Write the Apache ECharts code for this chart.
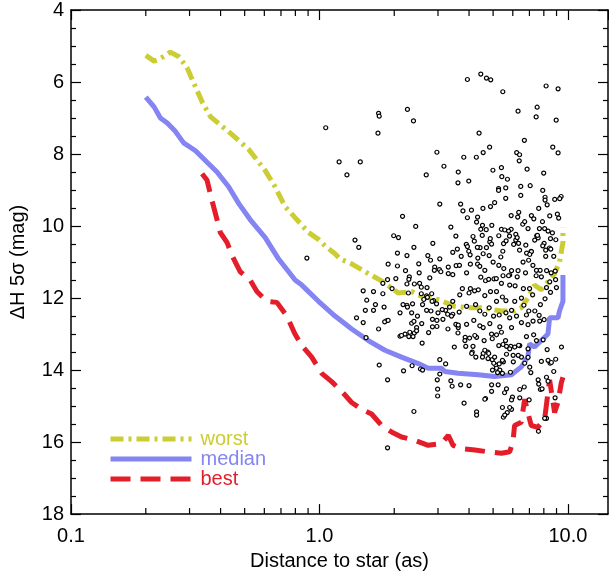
<!DOCTYPE html>
<html>
<head>
<meta charset="utf-8">
<script src="https://cdn.jsdelivr.net/npm/echarts@6/dist/echarts.min.js"></script>
<style>
  html, body { margin: 0; padding: 0; background: #fff; }
  #chart { width: 609px; height: 576px; }
</style>
</head>
<body>
<div id="chart"></div>
<script>
// contrast curves (distance in arcsec, delta H in mag)
const worstX = [0.20, 0.216, 0.226, 0.251, 0.272, 0.293, 0.307, 0.337, 0.364, 0.399, 0.445, 0.519, 0.605, 0.663, 0.727, 0.811, 0.903, 0.991, 1.053, 1.155, 1.21, 1.348, 1.573, 1.807, 2.076, 2.348, 2.575, 3.005, 3.504, 3.965, 4.485, 5.40, 6.10, 6.49, 6.90, 7.34, 7.81, 8.31, 8.84, 9.25, 9.55, 9.55];
const worstY = [5.26, 5.42, 5.37, 5.17, 5.30, 5.60, 5.92, 6.55, 6.96, 7.19, 7.46, 7.87, 8.46, 8.91, 9.46, 9.82, 10.18, 10.37, 10.55, 10.77, 10.91, 11.05, 11.32, 11.55, 11.86, 11.82, 11.95, 12.04, 12.23, 12.27, 12.27, 12.36, 12.36, 12.27, 12.00, 11.64, 11.77, 11.55, 11.32, 11.00, 10.46, 10.05];

const medianX = [0.20, 0.216, 0.229, 0.244, 0.263, 0.284, 0.317, 0.353, 0.387, 0.431, 0.473, 0.526, 0.605, 0.684, 0.798, 0.849, 0.991, 1.155, 1.348, 1.573, 1.835, 2.14, 2.50, 2.74, 3.10, 3.196, 3.615, 4.35, 5.07, 5.92, 6.49, 6.90, 7.01, 7.34, 7.81, 8.31, 8.44, 9.12, 9.25, 9.55, 9.55];
const medianY = [6.42, 6.69, 7.00, 7.14, 7.37, 7.69, 7.91, 8.23, 8.50, 8.91, 9.37, 9.82, 10.32, 10.91, 11.50, 11.64, 12.09, 12.50, 12.86, 13.18, 13.45, 13.64, 13.82, 13.95, 13.95, 14.04, 14.09, 14.13, 14.18, 14.13, 13.91, 13.64, 13.27, 13.36, 13.18, 13.00, 12.55, 12.55, 12.36, 12.09, 11.36];

const bestX = [0.337, 0.353, 0.369, 0.387, 0.399, 0.425, 0.445, 0.48, 0.526, 0.56, 0.614, 0.674, 0.739, 0.796, 0.849, 0.931, 1.021, 1.12, 1.229, 1.348, 1.479, 1.622, 1.778, 1.95, 2.14, 2.42, 2.74, 3.10, 3.30, 3.45, 3.73, 4.22, 4.77, 5.40, 5.83, 6.01, 6.10, 6.49, 6.70, 6.90, 7.12, 7.57, 8.06, 8.31, 8.44, 8.84, 9.12, 9.40, 9.55];
const bestY = [8.55, 8.73, 9.28, 9.82, 10.18, 10.46, 10.82, 11.27, 11.5, 11.82, 12.09, 12.12, 12.5, 12.99, 13.32, 13.64, 14.09, 14.32, 14.59, 14.9, 15.09, 15.22, 15.54, 15.72, 15.86, 15.95, 16.09, 16.04, 15.81, 16.09, 16.18, 16.22, 16.27, 16.31, 16.27, 15.99, 15.54, 15.45, 14.81, 15.18, 15.54, 15.59, 15.36, 14.63, 14.27, 15.18, 14.9, 14.36, 14.2];

// detected sources [distance, delta H]
const sources = [
  [2.26,6.76],[1.73,6.87],[1.74,6.95],[2.39,7.08],[1.06,7.27],[1.72,7.42],[2.97,7.95],[1.20,8.22],[1.46,8.22],[3.17,8.34],
  [1.29,8.58],[2.69,8.58],[3.05,9.39],[2.16,9.73],[2.44,10.01],[3.38,10.03],[1.99,10.27],[2.08,10.32],[1.39,10.39],[1.44,10.59],
  [2.40,10.59],[2.86,10.48],[3.94,5.93],[4.46,5.78],[4.70,5.89],[4.89,5.94],[5.47,6.27],[8.17,6.11],[9.13,6.19],[6.30,6.81],
  [7.52,6.70],[7.45,6.97],[8.97,7.06],[4.39,7.42],[6.68,7.62],[4.84,7.81],[4.56,7.96],[4.28,8.09],[3.81,8.09],[3.62,8.50],
  [3.61,8.80],[3.99,8.75],[6.22,7.96],[6.39,8.02],[6.37,8.19],[4.99,8.45],[5.40,8.38],[6.85,8.42],[8.69,7.81],[9.13,7.97],
  [7.99,8.53],[5.42,8.63],[5.71,8.70],[5.26,8.96],[5.26,9.01],[5.62,8.94],[5.62,9.23],[6.46,8.90],[6.46,9.15],[7.05,8.88],
  [7.92,9.01],[8.09,9.20],[8.09,9.28],[8.85,9.26],[9.39,9.18],[9.27,9.24],[3.70,9.39],[3.78,9.58],[3.94,9.77],[4.09,9.56],
  [4.33,9.75],[4.29,9.89],[4.55,9.51],[4.88,9.46],[5.07,9.35],[4.53,9.98],[4.94,9.98],[4.46,10.09],[4.69,10.10],[5.91,9.71],
  [6.28,9.75],[6.34,9.62],[7.13,9.71],[7.29,9.80],[6.58,9.95],[6.70,9.88],[7.63,9.51],[8.25,9.41],[8.45,9.72],[9.07,9.67],
  [9.18,9.78],[7.90,9.88],[7.68,10.07],[8.06,10.07],[8.32,10.14],[8.66,10.19],[8.94,10.38],[5.40,10.09],[5.91,10.09],[5.57,10.11],
  [6.17,10.23],[5.82,10.28],[5.27,10.27],[6.91,10.07],[7.49,10.27],[7.59,10.33],[7.35,10.39],[8.51,10.35],[8.02,10.48],[8.43,10.61],
  [4.85,10.44],[4.93,10.50],[4.70,10.60],[4.43,10.60],[6.17,10.39],[6.33,10.48],[6.77,10.53],[7.11,10.70],[5.51,10.49],[4.15,10.29],
  [4.20,10.42],[3.90,10.51],[3.54,10.28],[3.99,10.70],[5.47,10.70],[7.13,10.71],
  [0.89,10.89],[2.06,10.75],[2.25,10.82],[1.89,11.06],[2.06,11.11],[2.22,11.24],[1.88,11.49],[1.65,11.82],[1.50,11.80],[1.55,12.06],
  [1.68,12.18],[1.53,12.34],[1.65,12.34],[1.82,12.25],[1.86,12.63],[1.83,12.66],[1.41,12.55],[1.73,12.86],[1.54,13.10],[1.74,13.86],
  [1.88,14.27],[2.40,15.15],[2.18,14.02],[2.36,13.88],[2.55,13.97],[2.51,11.05],[2.73,10.82],[2.80,10.95],[2.91,11.14],[3.04,11.21],
  [2.78,11.44],[2.53,11.59],[2.71,11.71],[2.70,11.94],[2.88,12.07],[2.28,11.86],[2.25,12.20],[2.11,12.41],[2.35,12.41],[2.48,12.50],
  [2.58,12.71],[2.35,12.70],[2.46,12.82],[2.21,13.00],[2.11,13.06],[2.41,12.97],[2.59,13.25],[2.75,12.96],[2.97,12.79],[2.85,12.59],
  [3.00,12.41],[3.22,12.34],[3.44,12.45],[3.29,12.86],[3.54,12.73],[3.62,12.82],[3.86,13.09],[3.49,13.36],[3.88,13.34],[4.12,13.50],
  [4.26,13.64],[4.56,13.54],[4.76,13.50],[4.29,13.09],[4.60,13.18],[4.56,12.82],[4.93,13.00],[5.40,12.95],[5.61,13.18],[5.27,13.32],
  [5.89,13.34],[6.40,13.32],[6.91,13.41],[4.96,13.71],[5.12,13.86],[4.97,14.00],[5.50,13.77],[6.03,13.77],[6.50,13.64],[7.09,14.07],
  [7.59,14.27],[7.75,14.54],[7.82,13.76],[8.48,13.81],[8.93,13.70],[9.42,13.36],[8.25,13.43],[3.38,14.30],[3.70,14.41],[2.99,14.53],
  [4.00,14.43],[4.66,14.79],[4.93,14.59],[5.56,14.63],[5.98,14.75],[6.40,14.54],[3.82,14.92],[5.45,15.04],[5.93,15.09],[5.50,15.31],
  [7.63,14.39],
  [4.52,10.26],[4.87,10.35],[5.77,10.14],[6.25,10.32],[6.05,10.51],[5.64,10.41],[6.39,10.67],[6.82,10.75],[7.02,10.79],[7.54,10.26],
  [7.92,10.55],[8.14,10.67],[8.53,10.64],[8.77,10.84],[8.14,10.84],[6.95,10.95],[6.60,11.00],[7.23,11.09],[7.73,11.23],[8.21,11.24],
  [8.56,11.30],[8.89,11.25],[8.45,11.55],[7.82,11.41],[7.45,11.38],[7.47,11.23],[6.75,11.30],[6.30,11.24],[6.25,11.41],[5.93,11.24],
  [5.83,11.36],[5.52,11.18],[5.27,11.09],[5.00,11.00],[5.37,10.86],[4.82,10.82],[4.56,10.77],[4.32,10.59],[4.34,10.89],[4.04,10.80],
  [3.94,10.57],[3.59,10.64],[3.44,10.73],[3.72,10.84],[4.05,11.06],[4.33,11.06],[4.42,11.12],[4.63,11.23],[3.91,11.30],[3.44,11.35],
  [3.55,11.10],[3.66,11.09],[4.46,11.42],[4.66,11.52],[4.80,11.48],[5.04,11.47],[5.15,11.46],[5.48,11.38],[5.77,11.38],[5.40,11.59],
  [5.83,11.64],[6.13,11.66],[6.62,11.74],[7.01,11.74],[7.21,11.91],[8.20,11.71],[8.92,11.49],[8.99,11.71],[8.51,11.84],[8.09,12.02],
  [7.75,12.18],[7.66,12.48],[7.36,12.36],[6.96,12.36],[6.65,12.20],[6.50,12.00],[6.11,12.09],[5.93,12.34],[5.63,12.07],[5.45,11.97],
  [5.16,12.09],[5.16,11.82],[4.88,11.82],[4.63,11.93],[4.36,11.77],[4.21,11.80],[4.05,11.74],[4.00,11.86],[3.76,11.74],[3.67,11.91],
  [3.44,12.09],[3.34,12.25],[3.65,12.39],[3.91,12.23],[4.25,12.18],[4.42,12.36],[4.63,12.45],[4.82,12.27],[5.02,12.50],[5.29,12.47],
  [5.63,12.41],[5.83,12.55],[6.21,12.50],[6.81,12.47],[7.24,12.64],[7.70,12.64],[8.02,12.60],[6.91,12.74],[6.50,12.68],[5.93,12.82],
  [5.32,12.80],[4.85,12.71],[4.42,12.77],[4.18,12.62],[3.91,12.73],[3.62,12.75],[3.40,12.50],
  [3.61,12.97],[3.85,13.18],[4.02,13.11],[4.22,13.04],[4.15,13.34],[4.63,13.45],[4.96,13.13],[5.16,13.02],[5.48,13.29],[5.66,13.34],
  [5.83,13.41],[6.11,13.36],[6.33,13.31],[6.02,13.59],[6.31,13.59],[5.66,13.56],[5.45,13.73],[5.07,13.64],[4.80,13.54],[4.77,13.68],
  [4.53,13.64],[4.10,13.54],[5.03,13.81],[5.29,13.83],[5.16,13.95],[5.32,14.00],[5.21,14.07],[5.87,14.06],[5.45,14.09],[6.70,13.81],
  [6.91,13.65],[7.47,13.18],[7.95,13.16],[7.28,13.02],[6.81,13.07],[7.02,13.92],[8.32,13.73],[8.58,13.79],[8.77,14.04],[8.20,14.20],
  [7.87,14.52],[6.67,14.47],[5.66,14.52],[4.93,14.41],[5.24,14.41],[3.42,14.45],[4.63,14.81],[5.93,14.83],[6.98,14.83],[4.29,15.16],
  [4.29,15.25],[5.83,15.04],[5.70,15.18],[5.57,15.25],[7.61,15.70],[8.20,15.34],[8.06,15.34],[8.88,14.77],
  [2.52,11.30],[2.30,11.41],[2.29,11.48],[3.05,10.91],[2.90,11.23],[3.08,11.27],[3.30,11.14],[3.30,11.32],[2.03,11.46],[1.80,11.59],
  [2.25,11.61],[2.41,11.61],[1.80,11.88],[1.96,11.74],[2.37,12.16],[2.26,12.25],[2.17,12.18],[2.70,12.34],[2.81,12.36],[2.96,12.16],
  [3.12,12.32],[3.28,12.45],[2.97,12.62],[3.14,12.59],[2.57,11.70],[2.57,11.88],[2.83,11.88],[2.84,12.09],[2.63,12.04],[2.60,12.18],
  [2.72,11.98],[1.50,12.68],[1.89,12.62],[2.40,12.65],[2.46,12.91],[2.31,12.95],[2.14,13.04],[2.29,13.07],[2.38,13.07],[2.85,12.80],
  [3.05,13.71],[3.22,13.83],[2.60,14.00],[3.05,14.11],[2.98,14.27],[2.99,14.72],[1.88,16.16],[6.40,14.77],[8.32,14.31]
];

// minor ticks of the log axis
const logMinor = [0.2, 0.3, 0.4, 0.5, 0.6, 0.7, 0.8, 0.9, 2, 3, 4, 5, 6, 7, 8, 9];

const colWorst = '#cccc33';
const colMedian = '#8484f2';
const colBest = '#e31e2a';
const font = 'Liberation Sans, Arial, Helvetica, sans-serif';

const pair = (xs, ys) => xs.map((x, i) => [x, ys[i]]);

const xBase = {
    type: 'log',
    logBase: 10,
    min: 0.1,
    max: 14.5,
    axisLine: { show: true, onZero: false, lineStyle: { color: '#000', width: 1.5 } },
    axisTick: { show: true, inside: true, length: 10, lineStyle: { color: '#000', width: 1.2 } },
    splitLine: { show: false },
    minorTick: { show: false },
    minorSplitLine: { show: false }
};
const yBase = {
    type: 'value',
    inverse: true,
    min: 4,
    max: 18,
    interval: 2,
    axisLine: { show: true, onZero: false, lineStyle: { color: '#000', width: 1.5 } },
    axisTick: { show: true, inside: true, length: 10, lineStyle: { color: '#000', width: 1.2 } },
    minorTick: { show: true, splitNumber: 4, length: 5, lineStyle: { color: '#000', width: 1.2 } },
    splitLine: { show: false }
};

let myChart = echarts.init(document.getElementById('chart'));
let option = {
    animation: false,
    backgroundColor: '#fff',
    textStyle: { fontFamily: font },
    grid: { left: 70, right: 1, top: 3, bottom: 59 },
    legend: {
        orient: 'vertical',
        left: 103,
        top: 424,
        itemWidth: 81,
        itemHeight: 12,
        itemGap: 0,
        selectedMode: false,
        itemStyle: { color: 'rgba(0,0,0,0)', borderColor: 'rgba(0,0,0,0)', borderWidth: 0, opacity: 0 },
        lineStyle: { width: 5 },
        textStyle: { fontSize: 20, fontFamily: font, padding: [0, 0, 0, 4] },
        data: [
            { name: 'worst', textStyle: { color: colWorst } },
            { name: 'median', textStyle: { color: colMedian } },
            { name: 'best', textStyle: { color: colBest } }
        ]
    },
    xAxis: [
        Object.assign({}, xBase, {
            position: 'bottom',
            name: 'Distance to star (as)',
            nameLocation: 'middle',
            nameGap: 32,
            nameTextStyle: { fontSize: 20, color: '#000', fontFamily: font },
            axisLabel: {
                show: true, margin: 12, fontSize: 20, color: '#000', fontFamily: font,
                showMaxLabel: false,
                formatter: v => {
                    const l = Math.log10(v);
                    return Math.abs(l - Math.round(l)) < 1e-6 ? v.toFixed(1) : '';
                }
            }
        }),
        Object.assign({}, xBase, { position: 'top', axisLabel: { show: false } })
    ],
    yAxis: [
        Object.assign({}, yBase, {
            position: 'left',
            name: 'ΔH 5σ (mag)',
            nameLocation: 'middle',
            nameGap: 43,
            nameTextStyle: { fontSize: 20, color: '#000', fontFamily: font },
            axisLabel: { show: true, margin: 7, fontSize: 20, color: '#000', fontFamily: font }
        }),
        Object.assign({}, yBase, { position: 'right', axisLabel: { show: false } })
    ],
    series: [
        {
            name: 'worst',
            type: 'line',
            data: pair(worstX, worstY),
            symbol: 'none',
            color: colWorst,
            lineStyle: { color: colWorst, width: 5, type: [13, 5, 3, 5], cap: 'butt' },
            z: 3
        },
        {
            name: 'sources',
            type: 'scatter',
            data: sources,
            symbol: 'circle',
            symbolSize: 4,
            itemStyle: { color: '#fff', borderColor: '#000', borderWidth: 1.2, opacity: 1 },
            z: 4
        },
        {
            name: 'median',
            type: 'line',
            data: pair(medianX, medianY),
            symbol: 'none',
            color: colMedian,
            lineStyle: { color: colMedian, width: 5 },
            z: 3
        },
        {
            name: 'best',
            type: 'line',
            data: pair(bestX, bestY),
            symbol: 'none',
            color: colBest,
            lineStyle: { color: colBest, width: 5, type: [20, 10], cap: 'butt' },
            z: 3
        },
        {
            name: 'minorTicks',
            type: 'custom',
            data: logMinor.map(v => [v, 18]),
            silent: true,
            clip: false,
            z: 5,
            renderItem: (params, api) => {
                const v = api.value(0);
                const b = api.coord([v, 18]);
                const t = api.coord([v, 4]);
                const st = { stroke: '#000', lineWidth: 1.2 };
                return {
                    type: 'group',
                    children: [
                        { type: 'line', shape: { x1: b[0], y1: b[1], x2: b[0], y2: b[1] - 6 }, style: st },
                        { type: 'line', shape: { x1: t[0], y1: t[1], x2: t[0], y2: t[1] + 6 }, style: st }
                    ]
                };
            }
        }
    ]
};
myChart.setOption(option);
</script>
</body>
</html>
